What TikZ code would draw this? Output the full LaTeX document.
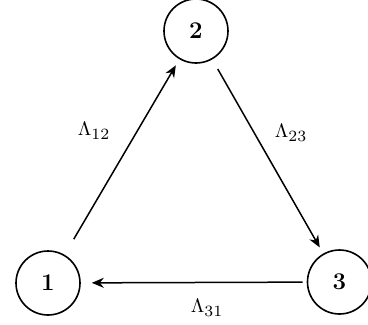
\documentclass[tikz,border=0pt]{standalone}
\usepackage{fontspec}
\usepackage{graphicx}
\usetikzlibrary{arrows.meta}
\newcommand{\ratelabel}[1]{\scalebox{1.95}{$\Lambda_{\scalebox{1.15}{$\scriptstyle #1$}}$}}
\begin{document}
\begin{tikzpicture}[x=1pt,y=-1pt,
  state/.style={circle,draw,line width=1.6pt,minimum size=64pt,inner sep=0pt,font=\fontsize{24}{28}\selectfont\bfseries},
  conn/.style={line width=1.5pt,-{Stealth[length=12pt,width=10pt]}},
  rate/.style={inner sep=0pt}]
\useasboundingbox (0,0) rectangle (368,325);
\node[state] (n2) at (196,31) {2};
\node[state] (n1) at (48,283) {1};
\node[state] (n3) at (339.5,282) {3};
\draw[conn,shorten <=18pt,shorten >=7pt] (n1) -- (n2);
\draw[conn,shorten <=11pt,shorten >=7pt] (n2) -- (n3);
\draw[conn,shorten <=4pt,shorten >=11pt] (n3) -- (n1);
\node[rate] (l12) at (94,131) {\ratelabel{12}};
\node[rate] (l23) at (291,133) {\ratelabel{23}};
\node[rate] (l31) at (207,308) {\ratelabel{31}};
\end{tikzpicture}
\end{document}
